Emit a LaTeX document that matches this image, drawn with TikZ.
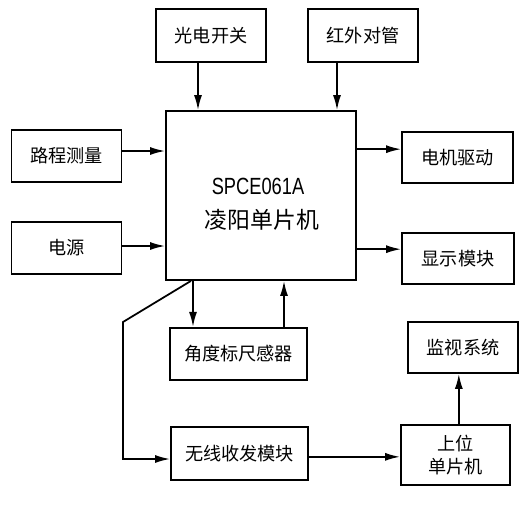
\documentclass[tikz,border=0pt]{standalone}
\usepackage{fontspec}
\setmainfont{Noto Sans CJK SC}
\newfontfamily\latinfont{Liberation Sans}
\usetikzlibrary{arrows.meta}

\begin{document}
\begin{tikzpicture}[x=0.03cm,y=-0.03cm,
    blk/.style={draw,line width=1.5pt,inner sep=0pt,minimum width=3.3cm,minimum height=1.57cm,
      font=\fontsize{15.5}{19}\selectfont,align=center},
    arr/.style={line width=1.5pt,-{Latex[length=4.5mm,width=2.4mm]}}]
    \useasboundingbox (0,0) rectangle (522,522);

    % blocks
    \node[blk] (gd) at (211,35.5) {光电开关};
    \node[blk] (hw) at (363,35.5) {红外对管};
    \node[blk] (lc) at (66.5,156) {路程测量};
    \node[blk] (dy) at (66.5,248) {电源};
    \node[blk,minimum width=5.7cm,minimum height=5.07cm] (mcu) at (261,195.5) {};
    \node[font=\latinfont\fontsize{20}{22}\selectfont,xscale=0.78] (mcuname) at (258,186) {SPCE061A};
    \node[font=\fontsize{19.5}{22}\selectfont] (mcusub) at (262,220) {凌阳单片机};
    \node[blk,minimum width=3.33cm,minimum height=1.53cm] (dj) at (457.5,157.5) {电机驱动};
    \node[blk,minimum width=3.36cm,minimum height=1.53cm] (xs) at (458,258.5) {显示模块};
    \node[blk,minimum width=4.11cm] (jd) at (238.5,354) {角度标尺感器};
    \node[blk,minimum width=4.11cm,minimum height=1.59cm] (wx) at (239.5,453.5) {无线收发模块};
    \node[blk,minimum width=3.27cm,minimum height=1.8cm] (sw) at (455.5,455) {上位\\单片机};
    \node[blk,minimum height=1.53cm] (jk) at (463,347.5) {监视系统};

    % inputs
    \draw[arr] ([xshift=-0.39cm]gd.south) -- ([xshift=-0.39cm]gd.south |- mcu.north);
    \draw[arr] ([xshift=-0.78cm]hw.south) -- ([xshift=-0.78cm]hw.south |- mcu.north);
    \draw[arr] ([yshift=0.15cm]lc.east) -- ([yshift=0.15cm]lc.east -| mcu.west);
    \draw[arr] ([yshift=0.06cm]dy.east) -- ([yshift=0.06cm]dy.east -| mcu.west);

    % outputs
    \draw[arr] ([yshift=0.25cm]dj.west -| mcu.east) -- ([yshift=0.25cm]dj.west);
    \draw[arr] ([yshift=0.28cm]xs.west -| mcu.east) -- ([yshift=0.28cm]xs.west);
    \draw[arr] ([xshift=-1.365cm]jd.north |- mcu.south) -- ([xshift=-1.365cm]jd.north);
    \draw[arr] ([xshift=1.365cm]jd.north) -- ([xshift=1.365cm]jd.north |- mcu.south);

    % wireless link
    \coordinate (bend) at (123,322);
    \draw[arr] ([xshift=-2.1cm]mcu.south) -- (bend) |- ([yshift=-0.165cm]wx.west);
    \draw[arr] ([yshift=-0.1cm]wx.east) -- ([yshift=-0.1cm]wx.east -| sw.west);
    \draw[arr] ([xshift=0.1cm]sw.north) -- ([xshift=0.1cm]sw.north |- jk.south);
\end{tikzpicture}
\end{document}
